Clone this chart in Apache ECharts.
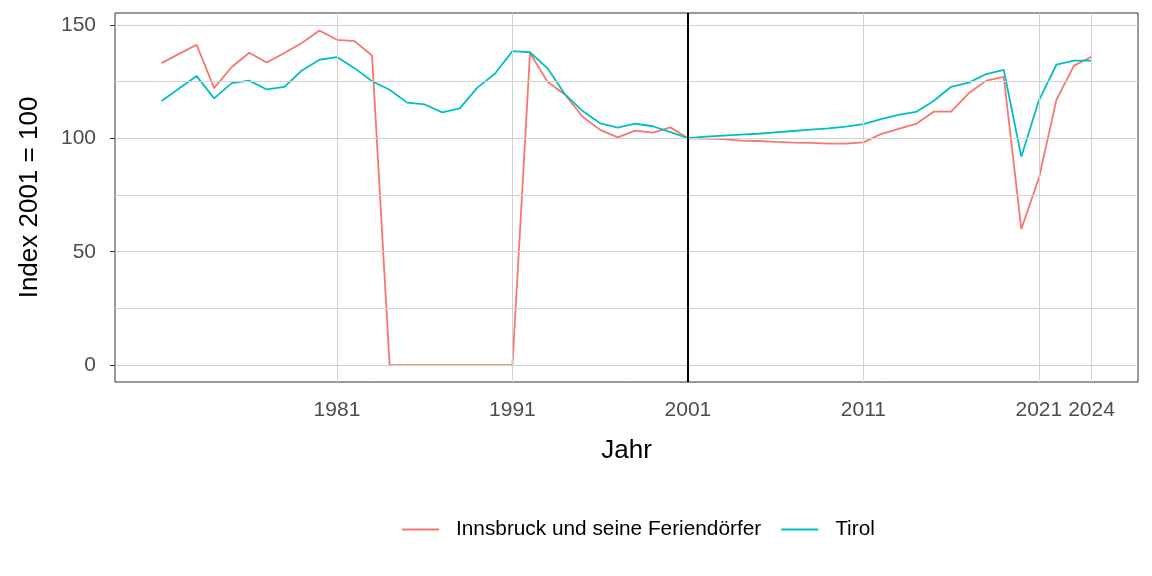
<!DOCTYPE html>
<html>
<head>
<meta charset="utf-8">
<script src="https://cdn.jsdelivr.net/npm/echarts@6/dist/echarts.min.js"></script>
<style>
html,body{margin:0;padding:0;background:#fff;}
#chart{width:1152px;height:576px;}
</style>
</head>
<body>
<div id="chart"></div>
<script>
const years = [1971,1972,1973,1974,1975,1976,1977,1978,1979,1980,1981,1982,1983,1984,1985,1986,1987,1988,1989,1990,1991,1992,1993,1994,1995,1996,1997,1998,1999,2000,2001,2002,2003,2004,2005,2006,2007,2008,2009,2010,2011,2012,2013,2014,2015,2016,2017,2018,2019,2020,2021,2022,2023,2024];
const innsbruck = [133.1,137.2,141.2,122.1,131.4,137.7,133.4,137.6,142.0,147.5,143.4,142.8,136.5,0,0,0,0,0,0,0,0,137.6,124.9,119.2,109.5,103.7,100.4,103.4,102.5,104.8,100,99.8,99.6,99.0,98.8,98.4,98.1,98.0,97.6,97.6,98.2,101.8,104.1,106.3,111.7,111.7,119.8,125.4,127.1,60.0,82.4,116.9,132.0,135.9];
const tirol = [116.4,121.9,127.4,117.6,124.3,125.4,121.5,122.6,129.9,134.6,135.8,130.9,125.1,121.4,115.7,114.9,111.4,113.2,122.3,128.4,138.4,137.9,130.8,119.3,112.0,106.6,104.7,106.4,105.3,102.7,100,100.7,101.2,101.6,102.0,102.6,103.2,103.8,104.4,105.1,106.2,108.4,110.3,111.6,116.4,122.7,124.5,128.3,130.1,91.9,116.6,132.4,134.2,134.2];
const seriesNames = ['Innsbruck und seine Feriendörfer','Tirol'];
const xTicks = [1981,1991,2001,2011,2021,2024];
const yTicks = [0,50,100,150];
const yGrid = [0,25,50,75,100,125,150];
const refYear = 2001;

const FONT = '"Liberation Sans", Arial, sans-serif';
const chart = echarts.init(document.getElementById('chart'));
const pairs = (arr) => years.map((y,i)=>[y,arr[i]]);

chart.setOption({
  animation:false,
  backgroundColor:'#ffffff',
  textStyle:{fontFamily:FONT},
  grid:{left:115,right:14,top:13,bottom:194,show:true,borderColor:'#333333',borderWidth:1,backgroundColor:'transparent'},
  legend:{
    data:seriesNames,
    left:397, top:514,
    icon:'rect', itemWidth:37, itemHeight:2, itemGap:20,
    textStyle:{fontFamily:FONT,fontSize:20.8,color:'#000',padding:[0,0,0,12]}
  },
  xAxis:{
    type:'value', min:1968.35, max:2026.65,
    name:'Jahr', nameLocation:'middle', nameGap:56,
    nameTextStyle:{fontFamily:FONT,fontSize:26,color:'#000'},
    axisLine:{show:false},
    axisTick:{show:true,customValues:xTicks,length:5,lineStyle:{color:'#333',width:1}},
    axisLabel:{customValues:xTicks,margin:18,fontFamily:FONT,fontSize:21,color:'#4d4d4d',formatter:(v)=>String(v)},
    splitLine:{show:false}
  },
  yAxis:{
    type:'value', min:-7.4, max:155.2,
    name:'Index 2001 = 100', nameLocation:'middle', nameRotate:90, nameGap:72,
    nameTextStyle:{fontFamily:FONT,fontSize:26,color:'#000'},
    axisLine:{show:false},
    axisTick:{show:true,customValues:yTicks,length:5,lineStyle:{color:'#333',width:1}},
    axisLabel:{customValues:yTicks,margin:19,fontFamily:FONT,fontSize:21,color:'#4d4d4d'},
    splitLine:{show:false}
  },
  series:[
    {
      name:'grid', type:'line', data:[], z:1, silent:true,
      markLine:{
        silent:true, symbol:['none','none'], label:{show:false}, animation:false,
        lineStyle:{color:'#d0d0d0',width:1,type:'solid'},
        emphasis:{disabled:true},
        data: xTicks.map(v=>({xAxis:v})).concat(yGrid.map(v=>({yAxis:v})))
      }
    },
    {
      name:'ref', type:'line', data:[], z:2, silent:true,
      markLine:{
        silent:true, symbol:['none','none'], label:{show:false}, animation:false,
        lineStyle:{color:'#000000',width:2,type:'solid'},
        emphasis:{disabled:true},
        data:[{xAxis:refYear}]
      }
    },
    {
      name:seriesNames[0], type:'line', data:pairs(innsbruck), z:3,
      showSymbol:false, symbol:'none', color:'#F8766D',
      lineStyle:{color:'#F8766D',width:1.8}
    },
    {
      name:seriesNames[1], type:'line', data:pairs(tirol), z:4,
      showSymbol:false, symbol:'none', color:'#00BFC4',
      lineStyle:{color:'#00BFC4',width:1.8}
    }
  ]
});
</script>
</body>
</html>
